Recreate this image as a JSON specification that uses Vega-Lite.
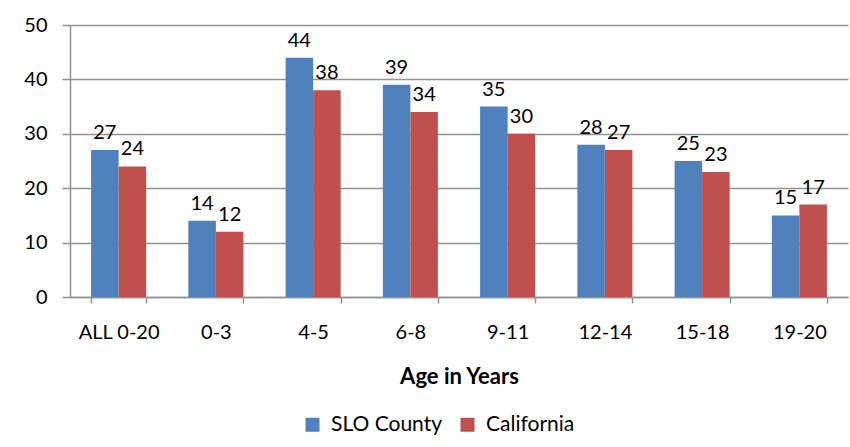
{
  "$schema": "https://vega.github.io/schema/vega-lite/v6.json",
  "width": 778,
  "height": 272,
  "autosize": "none",
  "padding": {"left": 70, "top": 25, "right": 2, "bottom": 150},
  "background": "white",
  "config": {
    "view": {"stroke": null},
    "font": "Lato"
  },
  "data": {
    "values": [
      {"age": "ALL 0-20", "series": "SLO County", "value": 27},
      {"age": "ALL 0-20", "series": "California", "value": 24},
      {"age": "0-3", "series": "SLO County", "value": 14},
      {"age": "0-3", "series": "California", "value": 12},
      {"age": "4-5", "series": "SLO County", "value": 44},
      {"age": "4-5", "series": "California", "value": 38},
      {"age": "6-8", "series": "SLO County", "value": 39},
      {"age": "6-8", "series": "California", "value": 34},
      {"age": "9-11", "series": "SLO County", "value": 35},
      {"age": "9-11", "series": "California", "value": 30},
      {"age": "12-14", "series": "SLO County", "value": 28},
      {"age": "12-14", "series": "California", "value": 27},
      {"age": "15-18", "series": "SLO County", "value": 25},
      {"age": "15-18", "series": "California", "value": 23},
      {"age": "19-20", "series": "SLO County", "value": 15},
      {"age": "19-20", "series": "California", "value": 17}
    ]
  },
  "encoding": {
    "x": {
      "field": "age",
      "type": "nominal",
      "sort": null,
      "scale": {"paddingInner": 0.434, "paddingOuter": 0.217},
      "axis": {
        "title": "Age in Years",
        "titleFont": "Lato",
        "titleFontSize": 22,
        "titleFontWeight": "bold",
        "titleColor": "black",
        "titlePadding": 24,
        "labelAngle": 0,
        "labelFont": "Lato",
        "labelFontSize": 20,
        "labelColor": "black",
        "labelPadding": 19,
        "tickBand": "extent",
        "tickSize": 6,
        "tickColor": "#929292",
        "tickWidth": 1.5,
        "domainColor": "#929292",
        "domainWidth": 1.5
      }
    },
    "xOffset": {"field": "series", "type": "nominal", "sort": ["SLO County", "California"]},
    "y": {
      "field": "value",
      "type": "quantitative",
      "scale": {"domain": [0, 50]},
      "axis": {
        "title": null,
        "values": [0, 10, 20, 30, 40, 50],
        "labelFont": "Lato",
        "labelFontSize": 20,
        "labelColor": "black",
        "labelPadding": 15,
        "tickSize": 8,
        "tickColor": "#929292",
        "tickWidth": 1.5,
        "domainColor": "#929292",
        "domainWidth": 1.5,
        "grid": true,
        "gridColor": "#929292",
        "gridWidth": 1.5
      }
    }
  },
  "layer": [
    {
      "mark": {"type": "bar"},
      "encoding": {
        "color": {
          "field": "series",
          "type": "nominal",
          "sort": ["SLO County", "California"],
          "scale": {"domain": ["SLO County", "California"], "range": ["#4F81BD", "#C0504D"]},
          "legend": {
            "title": null,
            "orient": "none",
            "legendX": 232,
            "legendY": 389,
            "direction": "horizontal",
            "symbolType": "square",
            "symbolSize": 196,
            "symbolStrokeWidth": 0,
            "labelFont": "Lato",
            "labelFontSize": 21,
            "labelColor": "black",
            "labelOffset": 8,
            "columnPadding": 14
          }
        }
      }
    },
    {
      "mark": {"type": "text", "baseline": "alphabetic", "dy": -11, "font": "Lato", "fontSize": 20, "color": "black"},
      "encoding": {
        "text": {"field": "value", "type": "quantitative"}
      }
    }
  ]
}
